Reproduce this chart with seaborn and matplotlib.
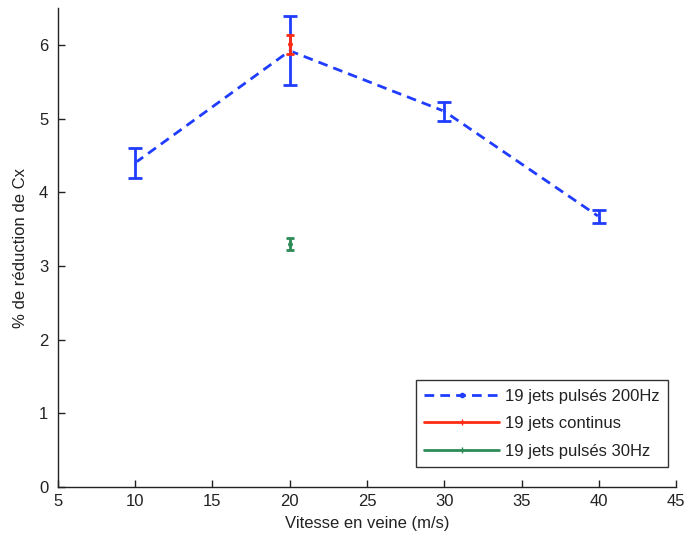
import matplotlib
matplotlib.use("Agg")
import matplotlib.pyplot as plt
import seaborn as sns
import pandas as pd
from matplotlib.lines import Line2D

# Data
speed_200 = [10, 20, 30, 40]
red_200 = [4.40, 5.92, 5.10, 3.67]
err_200 = [0.20, 0.47, 0.13, 0.09]

speed_cont = [20]
red_cont = [6.01]
err_cont = [0.13]

speed_30 = [20]
red_30 = [3.30]
err_30 = [0.08]

labels = ["19 jets pulsés 200Hz", "19 jets continus", "19 jets pulsés 30Hz"]
colors = ["#1f3cff", "#ff2a12", "#2e8b57"]

sns.set_style("ticks")
plt.rcParams["font.family"] = ["Liberation Sans", "DejaVu Sans"]

FS = 12
dash = (0, (3.5, 2.2))

fig = plt.figure(figsize=(6.87, 5.39), dpi=100)
ax = fig.add_axes([0.0844, 0.0965, 0.8996, 0.8885])

df = pd.DataFrame({"x": speed_200, "y": red_200})
sns.lineplot(data=df, x="x", y="y", ax=ax, color=colors[0], linestyle=dash,
             linewidth=2, marker=".", markersize=5, label=labels[0])
ax.errorbar(speed_200, red_200, yerr=err_200, fmt="none", ecolor=colors[0],
            elinewidth=2, capsize=4.7, capthick=2)

ax.errorbar(speed_cont, red_cont, yerr=err_cont, fmt=".", color=colors[1],
            elinewidth=2, capsize=3, capthick=2, markersize=5, label=labels[1])
ax.errorbar(speed_30, red_30, yerr=err_30, fmt=".", color=colors[2],
            elinewidth=2, capsize=2.6, capthick=2, markersize=5, label=labels[2])

ax.set_xlim(5, 45)
ax.set_ylim(0, 6.5)
ax.set_xticks(range(5, 46, 5))
ax.set_yticks(range(0, 7))
ax.set_xlabel("Vitesse en veine (m/s)", fontsize=FS, color="#222222", labelpad=5)
ax.set_ylabel("% de réduction de Cx", fontsize=FS, color="#222222", labelpad=8)
ax.tick_params(axis="both", labelsize=FS, colors="#222222", direction="in", length=5, width=1)
ax.tick_params(axis="y", pad=7)
ax.tick_params(axis="x", pad=5)
for s in ["top", "right"]:
    ax.spines[s].set_visible(False)
for s in ["left", "bottom"]:
    ax.spines[s].set_color("#222222")
    ax.spines[s].set_linewidth(1)

handles = [
    Line2D([], [], color=colors[0], linestyle=dash, linewidth=2, marker=".", markersize=6),
    Line2D([], [], color=colors[1], linestyle="-", linewidth=2, marker="+", markersize=4),
    Line2D([], [], color=colors[2], linestyle="-", linewidth=2, marker="+", markersize=4),
]
leg = ax.legend(handles, labels, loc="lower right", bbox_to_anchor=(0.987, 0.042),
                borderaxespad=0, fontsize=FS, frameon=True, fancybox=False,
                edgecolor="#000000", handlelength=4.5, handletextpad=0.35,
                borderpad=0.5, labelspacing=0.75)
leg.get_frame().set_linewidth(1)
for t in leg.get_texts():
    t.set_color("#222222")

fig.savefig("out.png", dpi=100)
